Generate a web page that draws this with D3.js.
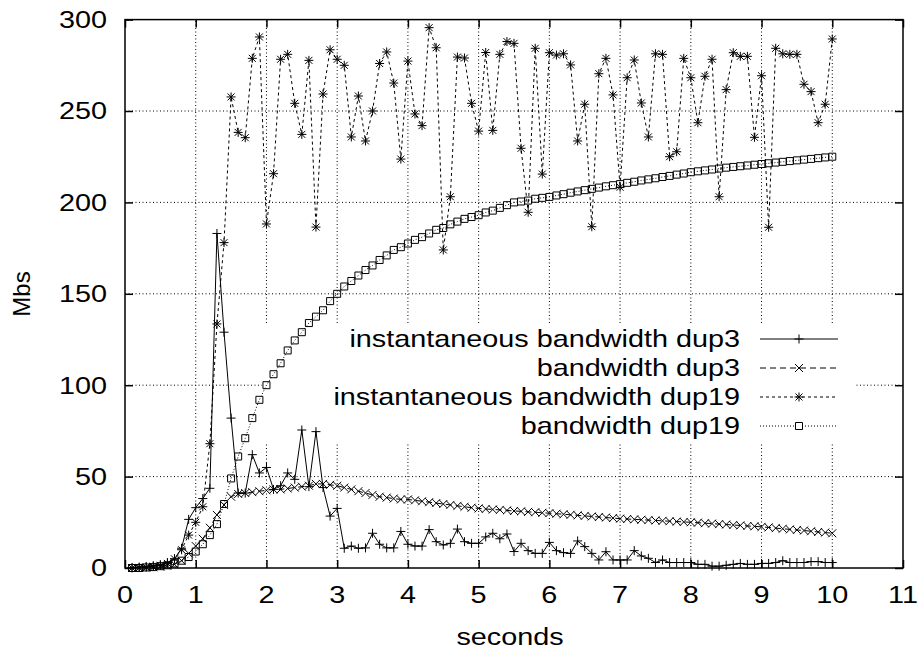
<!DOCTYPE html>
<html>
<head>
<meta charset="utf-8">
<script src="https://d3js.org/d3.v7.min.js"></script>
<style>
  body { margin: 0; background: #fff; }
  text { font-family: "Liberation Sans", Arial, sans-serif; fill: #000; }
</style>
</head>
<body>
<svg id="chart" width="919" height="655"></svg>
<script>
// sample times (seconds)
const times = [
  0.1, 0.2, 0.3, 0.4, 0.5, 0.6, 0.7, 0.8, 0.9, 1.0,
  1.1, 1.2, 1.3, 1.4, 1.5, 1.6, 1.7, 1.8, 1.9, 2.0,
  2.1, 2.2, 2.3, 2.4, 2.5, 2.6, 2.7, 2.8, 2.9, 3.0,
  3.1, 3.2, 3.3, 3.4, 3.5, 3.6, 3.7, 3.8, 3.9, 4.0,
  4.1, 4.2, 4.3, 4.4, 4.5, 4.6, 4.7, 4.8, 4.9, 5.0,
  5.1, 5.2, 5.3, 5.4, 5.5, 5.6, 5.7, 5.8, 5.9, 6.0,
  6.1, 6.2, 6.3, 6.4, 6.5, 6.6, 6.7, 6.8, 6.9, 7.0,
  7.1, 7.2, 7.3, 7.4, 7.5, 7.6, 7.7, 7.8, 7.9, 8.0,
  8.1, 8.2, 8.3, 8.4, 8.5, 8.6, 8.7, 8.8, 8.9, 9.0,
  9.1, 9.2, 9.3, 9.4, 9.5, 9.6, 9.7, 9.8, 9.9, 10.0
];

const instDup3 = [
  0.3, 0.5, 0.8, 1.2, 1.8, 3, 5, 10.8, 26.6, 33,
  38, 43.6, 183, 129, 82, 41, 41, 62, 52, 55,
  43, 45, 52, 48.5, 75.5, 44.5, 74.6, 44, 28.4, 32.6,
  10.8, 12, 10.8, 11, 19, 13, 11, 11, 20, 13,
  12, 12, 21, 14.4, 12.6, 13.5, 21.3, 14.4, 13.5, 13.5,
  17, 19, 16, 18.6, 9, 13.5, 9.5, 8, 8, 14,
  9.5, 8.4, 8, 14.8, 11.7, 8, 4.4, 8.9, 4.4, 4.4,
  4.4, 9.5, 6.6, 5.3, 3, 4.4, 3, 3, 3, 3,
  2, 2, 1, 1, 1.5, 2, 2.5, 2, 2, 2.5,
  2.5, 3, 4, 3, 3, 3, 3.5, 3.5, 3, 3
];

const bwDup3 = [
  0, 0, 0.2, 0.4, 0.7, 1.2, 2, 4, 8, 12,
  16, 22, 29, 34.5, 39, 40.5, 41, 41.5, 42, 42.5,
  43, 43, 43.5, 44, 44.5, 45, 46, 46, 45.5, 45,
  44, 43, 42, 41, 40, 39, 38.5, 38, 37.5, 37.5,
  37, 36.5, 36, 35.5, 35, 34.5, 34, 33.5, 33, 32.6,
  32.3, 32, 31.8, 31.5, 31.2, 31, 30.7, 30.5, 30.2, 30,
  29.7, 29.4, 29.1, 28.8, 28.5, 28.2, 27.9, 27.6, 27.3, 27,
  26.8, 26.6, 26.4, 26.2, 26, 25.8, 25.6, 25.4, 25.2, 25,
  24.8, 24.5, 24.3, 24, 23.8, 23.5, 23.3, 23, 22.8, 22.5,
  22.2, 21.8, 21.5, 21.1, 20.8, 20.5, 20.1, 19.7, 19.4, 19
];

const instDup19 = [
  0, 0.3, 0.5, 1, 1.5, 2.5, 5, 10, 18, 25,
  33.5, 68, 133.5, 178, 257.7, 238.3, 235.4, 278.8, 290.5, 188.2,
  215.7, 278.3, 281, 254.2, 237.2, 277.7, 186.5, 259.3, 283.5, 278.3,
  275, 235.8, 258.2, 233.6, 250, 276, 282.3, 265.3, 223.7, 277.3,
  248.4, 242, 295.6, 284.6, 174, 203.1, 279.5, 279, 254.2, 239,
  282, 239.4, 281, 288, 287, 229.6, 194.6, 284.3, 215.5, 281.9,
  280.6, 281.3, 275.2, 233.6, 253.7, 186.7, 270.4, 278.8, 258.8, 208.3,
  268.2, 277.9, 254.4, 235.8, 281.3, 281, 225, 227.7, 278.8, 268.2,
  243.6, 269, 278.3, 203.1, 261.7, 281.9, 279.9, 279.9, 235.6, 269.3,
  186.4, 284.3, 281.3, 281, 281, 264.6, 260.6, 243.6, 253.7, 289.4
];

const bwDup19 = [
  0, 0, 0.3, 0.5, 1, 1.5, 2.5, 4, 6, 9,
  13, 18, 24, 35, 49, 61, 71, 82, 92, 100,
  106, 112, 119, 124.5, 129, 134, 137.5, 141, 146, 150,
  154, 157, 160, 163, 165.5, 168.5, 171, 174, 175.5, 177.5,
  179.5, 181, 183, 185, 186, 188, 189.5, 191, 192, 193,
  194.5, 195.5, 197, 198.5, 200, 200.5, 201, 202, 202.5, 203,
  203.8, 204.5, 205.3, 206, 206.7, 207.4, 208.1, 208.8, 209.4, 210,
  210.7, 211.3, 212, 212.6, 213.2, 213.9, 214.5, 215.2, 215.8, 216.5,
  217, 217.5, 218, 218.5, 219, 219.4, 219.8, 220.2, 220.6, 221,
  221.4, 221.8, 222.2, 222.6, 223, 223.4, 223.8, 224.2, 224.6, 225
];

const xTicks = [0, 1, 2, 3, 4, 5, 6, 7, 8, 9, 10, 11];
const yTicks = [0, 50, 100, 150, 200, 250, 300];
const seriesNames = [
  "instantaneous bandwidth dup3",
  "bandwidth dup3",
  "instantaneous bandwidth dup19",
  "bandwidth dup19"
];

const svg = d3.select("#chart");
const plotLeft = 125, plotRight = 903, plotTop = 19.6, plotBottom = 568;
const fontSize = 24, stretch = 1.2;   // gnuplot's font renders a bit wider than Arial

const x = d3.scaleLinear().domain([0, 11]).range([plotLeft, plotRight]);
const y = d3.scaleLinear().domain([0, 300]).range([plotBottom, plotTop]);

// put a horizontally stretched label at (px, py)
function label(parent, px, py, str, anchor) {
  return parent.append("text")
    .attr("transform", `translate(${px},${py}) scale(${stretch},1)`)
    .attr("dy", "0.35em")
    .attr("text-anchor", anchor)
    .attr("font-size", fontSize)
    .text(str);
}

// grid
const grid = svg.append("g")
  .attr("stroke", "#000")
  .attr("stroke-width", 1)
  .attr("stroke-dasharray", "1,2.5");
grid.selectAll("line.gx").data(xTicks.slice(1, -1)).join("line")
  .attr("class", "gx")
  .attr("x1", d => x(d)).attr("x2", d => x(d))
  .attr("y1", plotBottom).attr("y2", plotTop);
grid.selectAll("line.gy").data(yTicks.slice(1, -1)).join("line")
  .attr("class", "gy")
  .attr("x1", plotLeft).attr("x2", plotRight)
  .attr("y1", d => y(d)).attr("y2", d => y(d));

// marker shapes
const markers = {
  plus: "M-4.5,0H4.5M0,-4.5V4.5",
  cross: "M-4,-4L4,4M-4,4L4,-4",
  star: "M-4.5,0H4.5M0,-4.5V4.5M-3.5,-3.5L3.5,3.5M-3.5,3.5L3.5,-3.5",
  square: "M-3.5,-3.5H3.5V3.5H-3.5Z"
};

const series = [
  { name: seriesNames[0], values: instDup3, dash: null, marker: "plus" },
  { name: seriesNames[1], values: bwDup3, dash: "6,4", marker: "cross" },
  { name: seriesNames[2], values: instDup19, dash: "3,3", marker: "star" },
  { name: seriesNames[3], values: bwDup19, dash: "1,2", marker: "square" }
];

// legend (opaque box then samples)
const legX = 740, sampleX1 = 760, sampleX2 = 838, rowY0 = 339, rowStep = 29;
svg.append("rect")
  .attr("x", 262).attr("y", 325)
  .attr("width", 856 - 262).attr("height", 442 - 325)
  .attr("fill", "#fff");

const leg = svg.append("g");
series.forEach((s, i) => {
  const ry = rowY0 + i * rowStep;
  label(leg, legX, ry, s.name, "end");
  leg.append("line")
    .attr("x1", sampleX1).attr("x2", sampleX2)
    .attr("y1", ry).attr("y2", ry)
    .attr("stroke", "#000").attr("stroke-width", 1)
    .attr("stroke-dasharray", s.dash);
  leg.append("path")
    .attr("transform", `translate(${(sampleX1 + sampleX2) / 2},${ry})`)
    .attr("d", markers[s.marker])
    .attr("fill", s.marker === "square" ? "#fff" : "none")
    .attr("stroke", "#000").attr("stroke-width", 1);
});

// data
const line = d3.line().x((d, i) => x(times[i])).y(d => y(d));
series.forEach(s => {
  const g = svg.append("g");
  g.append("path")
    .datum(s.values)
    .attr("d", line)
    .attr("fill", "none")
    .attr("stroke", "#000")
    .attr("stroke-width", 1)
    .attr("stroke-dasharray", s.dash);
  g.selectAll("path.m").data(s.values).join("path")
    .attr("class", "m")
    .attr("transform", (d, i) => `translate(${x(times[i])},${y(d)})`)
    .attr("d", markers[s.marker])
    .attr("fill", "none")
    .attr("stroke", "#000").attr("stroke-width", 1);
});

// border
svg.append("rect")
  .attr("x", plotLeft).attr("y", plotTop)
  .attr("width", plotRight - plotLeft).attr("height", plotBottom - plotTop)
  .attr("fill", "none").attr("stroke", "#000").attr("stroke-width", 1.5);

// ticks on all four sides, gnuplot style; labels drawn separately so they can be stretched
const tickFmt = d3.format("d");
[
  [d3.axisBottom(x).tickValues(xTicks), `translate(0,${plotBottom})`],
  [d3.axisTop(x).tickValues(xTicks), `translate(0,${plotTop})`],
  [d3.axisLeft(y).tickValues(yTicks), `translate(${plotLeft},0)`],
  [d3.axisRight(y).tickValues(yTicks), `translate(${plotRight},0)`]
].forEach(([axis, tr]) => {
  svg.append("g").attr("transform", tr)
    .call(axis.tickSizeInner(-8).tickSizeOuter(0).tickFormat(""));
});
svg.selectAll(".domain").remove();
svg.selectAll(".tick line").attr("stroke", "#000").attr("stroke-width", 1.5);

const labels = svg.append("g");
xTicks.forEach(v => label(labels, x(v), 595, tickFmt(v), "middle"));
yTicks.forEach(v => label(labels, plotLeft - 18, y(v), tickFmt(v), "end"));

// axis titles
label(svg, (plotLeft + plotRight) / 2 - 4, 637, "seconds", "middle");
svg.append("text")
  .attr("transform", "translate(22,294) rotate(-90)")
  .attr("dy", "0.35em")
  .attr("text-anchor", "middle")
  .attr("font-size", fontSize)
  .text("Mbs");
</script>
</body>
</html>
